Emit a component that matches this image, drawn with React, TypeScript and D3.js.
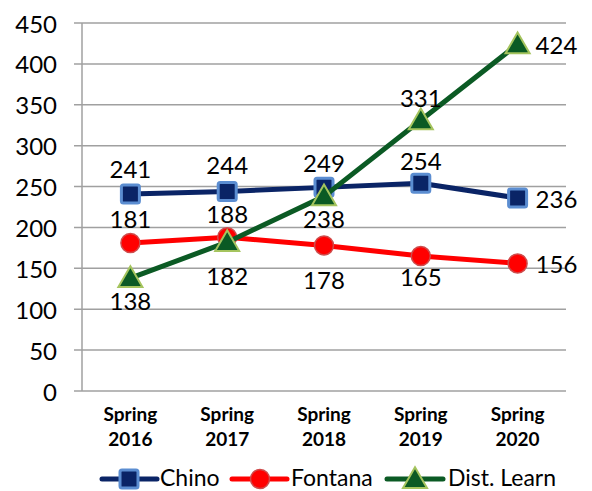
import React from "react";
import * as d3 from "d3";

const categories = ["Spring 2016", "Spring 2017", "Spring 2018", "Spring 2019", "Spring 2020"];
const chino = [241, 244, 249, 254, 236];
const fontana = [181, 188, 178, 165, 156];
const distLearn = [138, 182, 238, 331, 424];
const yTicks = [0, 50, 100, 150, 200, 250, 300, 350, 400, 450];
const seriesNames = ["Chino", "Fontana", "Dist. Learn"];

// label placement: [side, offset]
const placements: [string, number][][] = [
  [["a", 25], ["a", 27], ["a", 25], ["a", 23], ["r", 0]],
  [["a", 24], ["a", 24], ["b", 34], ["b", 20], ["r", 0]],
  [["b", 22], ["b", 33], ["b", 22], ["a", 23], ["r", 0]],
];

const W = 592, H = 491;
const left = 82, right = 566, top = 23, bottom = 391;
const FONT = "Lato, 'Open Sans', sans-serif";

const styles = [
  { line: "#0a2466", fill: "#0a2466", stroke: "#5b8dd1", shape: "square" },
  { line: "#ff0000", fill: "#ff0000", stroke: "#cf4b4b", shape: "circle" },
  { line: "#0b5a24", fill: "#0b5a24", stroke: "#a5c45e", shape: "triangle" },
];

function Marker({ x, y, shape, fill, stroke }: any) {
  if (shape === "square")
    return <rect x={x - 9} y={y - 9} width={18} height={18} rx={2} fill={fill} stroke={stroke} strokeWidth={3} />;
  if (shape === "circle")
    return <circle cx={x} cy={y} r={9.5} fill={fill} stroke={stroke} strokeWidth={1.5} />;
  const p = d3.symbol().type(d3.symbolTriangle).size(250)();
  return <path d={p || ""} transform={`translate(${x},${y + 2})`} fill={fill} stroke={stroke} strokeWidth={2} strokeLinejoin="miter" />;
}

export default function App() {
  const x = d3.scaleBand().domain(categories).range([left, right]);
  const y = d3.scaleLinear().domain([0, 450]).range([bottom, top]);
  const cx = (c: string) => (x(c) as number) + x.bandwidth() / 2;
  const data = [chino, fontana, distLearn];
  const line = d3.line<number>().x((_, i) => cx(categories[i])).y((d) => y(d));

  const legendItems = [
    { lx1: 102, lx2: 157, mx: 129, tx: 160 },
    { lx1: 232, lx2: 287, mx: 260, tx: 291 },
    { lx1: 387, lx2: 443, mx: 415, tx: 448 },
  ];
  const ly = 479;

  return (
    <svg width={W} height={H} style={{ position: "absolute", left: 0, top: 0, background: "#fff" }} fontFamily={FONT}>
      {yTicks.map((t) => (
        <g key={t}>
          <line x1={74} x2={right} y1={y(t)} y2={y(t)} stroke="#a0a0a0" strokeWidth={1.5} />
          <text x={57} y={y(t)} textAnchor="end" dominantBaseline="central" fontSize={24} fill="#000">
            {t}
          </text>
        </g>
      ))}
      <line x1={left} x2={left} y1={top} y2={bottom} stroke="#a0a0a0" strokeWidth={1.5} />
      {categories.map((c) => {
        const [a, b] = c.split(" ");
        return (
          <text key={c} x={cx(c)} textAnchor="middle" fontSize={19} fontWeight="bold" fill="#000">
            <tspan x={cx(c)} y={421}>{a}</tspan>
            <tspan x={cx(c)} y={446}>{b}</tspan>
          </text>
        );
      })}
      {data.map((s, si) => (
        <g key={si}>
          <path d={line(s) || ""} fill="none" stroke={styles[si].line} strokeWidth={5} strokeLinejoin="round" strokeLinecap="round" />
          {s.map((v, i) => (
            <Marker key={i} x={cx(categories[i])} y={y(v)} {...styles[si]} />
          ))}
        </g>
      ))}
      {data.map((s, si) =>
        s.map((v, i) => {
          const [side, off] = placements[si][i];
          const px = cx(categories[i]);
          const py = y(v);
          if (side === "r")
            return (
              <text key={`${si}-${i}`} x={px + 18} y={py} dominantBaseline="central" fontSize={24} fill="#000">
                {v}
              </text>
            );
          return (
            <text key={`${si}-${i}`} x={px} y={side === "a" ? py - off : py + off} textAnchor="middle" dominantBaseline="central" fontSize={24} fill="#000">
              {v}
            </text>
          );
        })
      )}
      {legendItems.map((l, i) => (
        <g key={i}>
          <line x1={l.lx1} x2={l.lx2} y1={ly} y2={ly} stroke={styles[i].line} strokeWidth={5} strokeLinecap="round" />
          <Marker x={l.mx} y={ly} {...styles[i]} />
          <text x={l.tx} y={486} fontSize={23} fill="#000">
            {seriesNames[i]}
          </text>
        </g>
      ))}
    </svg>
  );
}
